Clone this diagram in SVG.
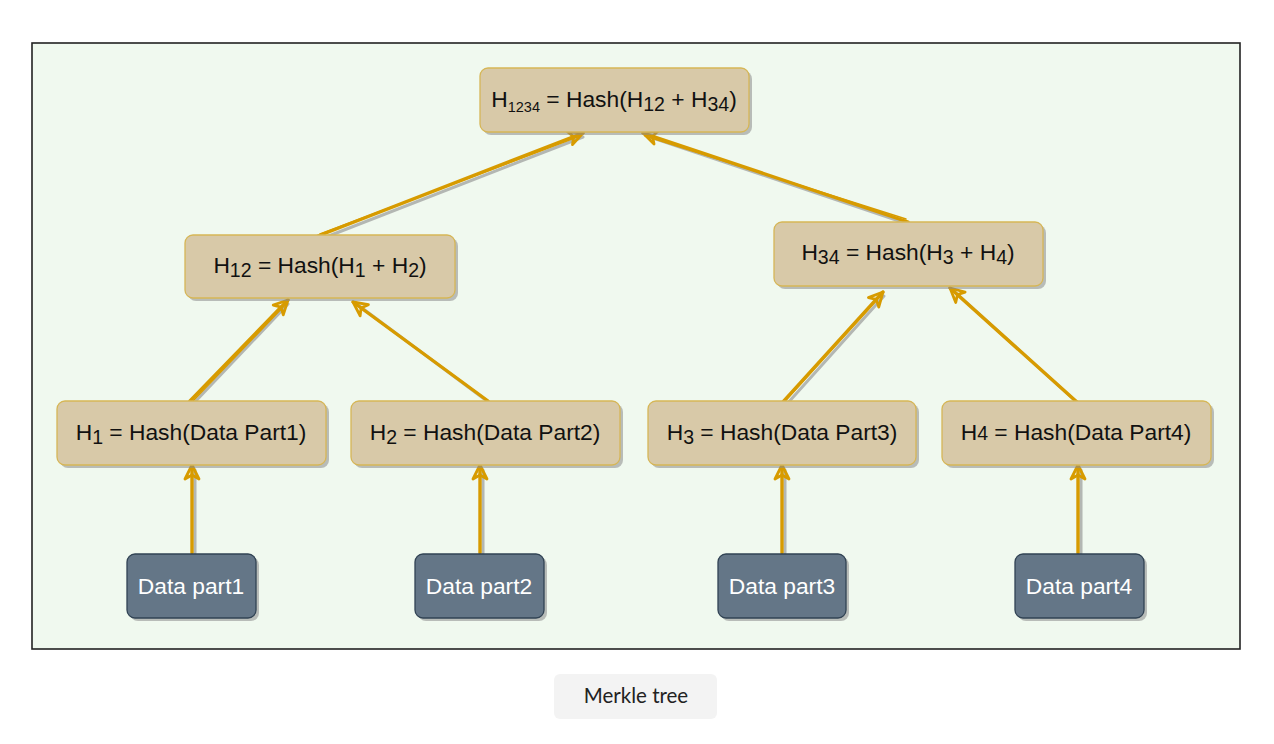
<svg xmlns="http://www.w3.org/2000/svg" width="1274" height="744" viewBox="0 0 1274 744">
<defs>
<style>
.hash{fill:#d8c9a8;stroke:#d6b656;stroke-width:1.3}
.data{fill:#647687;stroke:#314354;stroke-width:1.3}
.shadow{fill:#8a8a8a;opacity:0.55}
.t{font-family:"Liberation Sans",Arial,sans-serif;font-size:22.8px;fill:#111;text-anchor:middle}
.tw{font-family:"Liberation Sans",Arial,sans-serif;font-size:22.8px;fill:#fff;text-anchor:middle}
.edge{stroke:#d79b00;stroke-width:3.4;fill:none;stroke-linecap:round;marker-end:url(#arr)}
.edge2{stroke:#d79b00;stroke-width:1.4;fill:none;stroke-linecap:round}
.eshadow{stroke:#8a8a8a;stroke-width:3;fill:none;opacity:0.6;stroke-linecap:round}
</style>
<marker id="arr" markerUnits="userSpaceOnUse" markerWidth="20" markerHeight="20" viewBox="0 0 20 20" refX="17" refY="10" orient="auto">
<path d="M3,3 L17,10 L3,17 L7,10 Z" fill="none" stroke="#d79b00" stroke-width="2.8" stroke-linejoin="round"/>
</marker>
</defs>
<rect x="0" y="0" width="1274" height="744" fill="#ffffff"/>
<rect x="32" y="43" width="1208" height="606" fill="#f0f9ef" stroke="#222" stroke-width="1.6"/>

<g id="connectors">
<line class="eshadow" x1="321" y1="239" x2="583" y2="137"/>
<line class="eshadow" x1="911" y1="225" x2="647" y2="136"/>
<line class="eshadow" x1="193" y1="404" x2="288" y2="304"/>
<line class="eshadow" x1="491" y1="404" x2="358" y2="305"/>
<line class="eshadow" x1="786" y1="405" x2="884" y2="296"/>
<line class="eshadow" x1="1081" y1="406" x2="955" y2="292"/>
<line class="eshadow" x1="195" y1="553" x2="195" y2="470"/>
<line class="eshadow" x1="483" y1="553" x2="483" y2="470"/>
<line class="eshadow" x1="785" y1="553" x2="785" y2="470"/>
<line class="eshadow" x1="1081" y1="553" x2="1081" y2="470"/>

<line class="edge" x1="318" y1="236" x2="583" y2="133"/>
<line class="edge2" x1="320" y1="234" x2="580" y2="136"/>
<line class="edge" x1="908" y1="222" x2="643" y2="133"/>
<line class="edge2" x1="906" y1="219" x2="645" y2="136"/>
<line class="edge" x1="190" y1="401" x2="288" y2="300"/>
<line class="edge2" x1="193" y1="401" x2="286" y2="304"/>
<line class="edge" x1="488" y1="401" x2="353" y2="302"/>
<line class="edge" x1="783" y1="402" x2="883" y2="292"/>
<line class="edge2" x1="786" y1="400" x2="880" y2="296"/>
<line class="edge" x1="1078" y1="403" x2="950" y2="288"/>
<line class="edge2" x1="1075" y1="401" x2="955" y2="292"/>
<line class="edge" x1="192" y1="553" x2="192" y2="465"/>
<line class="edge" x1="480" y1="553" x2="480" y2="465"/>
<line class="edge" x1="782" y1="553" x2="782" y2="465"/>
<line class="edge" x1="1078" y1="553" x2="1078" y2="465"/>
</g>

<g id="h1234">
<rect class="shadow" x="483" y="71" width="269" height="64" rx="8"/>
<rect class="hash" x="480" y="68" width="269" height="64" rx="8"/>
<text class="t" x="614" y="107">H<tspan font-size="14.5" dy="5">1234</tspan><tspan dy="-5"> = Hash(H</tspan><tspan font-size="19.5" dy="4">12</tspan><tspan dy="-4"> + H</tspan><tspan font-size="19.5" dy="4">34</tspan><tspan dy="-4">)</tspan></text>
</g>

<g id="h12">
<rect class="shadow" x="188" y="238" width="270" height="63" rx="8"/>
<rect class="hash" x="185" y="235" width="270" height="63" rx="8"/>
<text class="t" x="320" y="273">H<tspan font-size="19.5" dy="4">12</tspan><tspan dy="-4"> = Hash(H</tspan><tspan font-size="19.5" dy="4">1</tspan><tspan dy="-4"> + H</tspan><tspan font-size="19.5" dy="4">2</tspan><tspan dy="-4">)</tspan></text>
</g>

<g id="h34">
<rect class="shadow" x="777" y="225" width="269" height="64" rx="8"/>
<rect class="hash" x="774" y="222" width="269" height="64" rx="8"/>
<text class="t" x="908" y="260">H<tspan font-size="19.5" dy="4">34</tspan><tspan dy="-4"> = Hash(H</tspan><tspan font-size="19.5" dy="4">3</tspan><tspan dy="-4"> + H</tspan><tspan font-size="19.5" dy="4">4</tspan><tspan dy="-4">)</tspan></text>
</g>

<g id="h1">
<rect class="shadow" x="60" y="404" width="269" height="64" rx="8"/>
<rect class="hash" x="57" y="401" width="269" height="64" rx="8"/>
<text class="t" x="191" y="440">H<tspan font-size="19.5" dy="4">1</tspan><tspan dy="-4"> = Hash(Data Part1)</tspan></text>
</g>

<g id="h2">
<rect class="shadow" x="354" y="404" width="269" height="64" rx="8"/>
<rect class="hash" x="351" y="401" width="269" height="64" rx="8"/>
<text class="t" x="485" y="440">H<tspan font-size="19.5" dy="4">2</tspan><tspan dy="-4"> = Hash(Data Part2)</tspan></text>
</g>

<g id="h3">
<rect class="shadow" x="651" y="404" width="268" height="64" rx="8"/>
<rect class="hash" x="648" y="401" width="268" height="64" rx="8"/>
<text class="t" x="782" y="440">H<tspan font-size="19.5" dy="4">3</tspan><tspan dy="-4"> = Hash(Data Part3)</tspan></text>
</g>

<g id="h4">
<rect class="shadow" x="945" y="404" width="269" height="64" rx="8"/>
<rect class="hash" x="942" y="401" width="269" height="64" rx="8"/>
<text class="t" x="1076" y="440">H<tspan font-size="19.5">4</tspan> = Hash(Data Part4)</text>
</g>

<g id="data1">
<rect class="shadow" x="130" y="557" width="129" height="64" rx="8"/>
<rect class="data" x="127" y="554" width="129" height="64" rx="8"/>
<text class="tw" x="191" y="594">Data part1</text>
</g>
<g id="data2">
<rect class="shadow" x="418" y="557" width="129" height="64" rx="8"/>
<rect class="data" x="415" y="554" width="129" height="64" rx="8"/>
<text class="tw" x="479" y="594">Data part2</text>
</g>
<g id="data3">
<rect class="shadow" x="721" y="557" width="128" height="64" rx="8"/>
<rect class="data" x="718" y="554" width="128" height="64" rx="8"/>
<text class="tw" x="782" y="594">Data part3</text>
</g>
<g id="data4">
<rect class="shadow" x="1018" y="557" width="129" height="64" rx="8"/>
<rect class="data" x="1015" y="554" width="129" height="64" rx="8"/>
<text class="tw" x="1079" y="594">Data part4</text>
</g>

<g id="caption">
<rect x="554" y="674" width="163" height="45" rx="6" fill="#f3f3f3"/>
<text x="636" y="703" font-family="Lato,'Noto Sans',sans-serif" font-size="20.5" fill="#222" text-anchor="middle">Merkle tree</text>
</g>
</svg>
